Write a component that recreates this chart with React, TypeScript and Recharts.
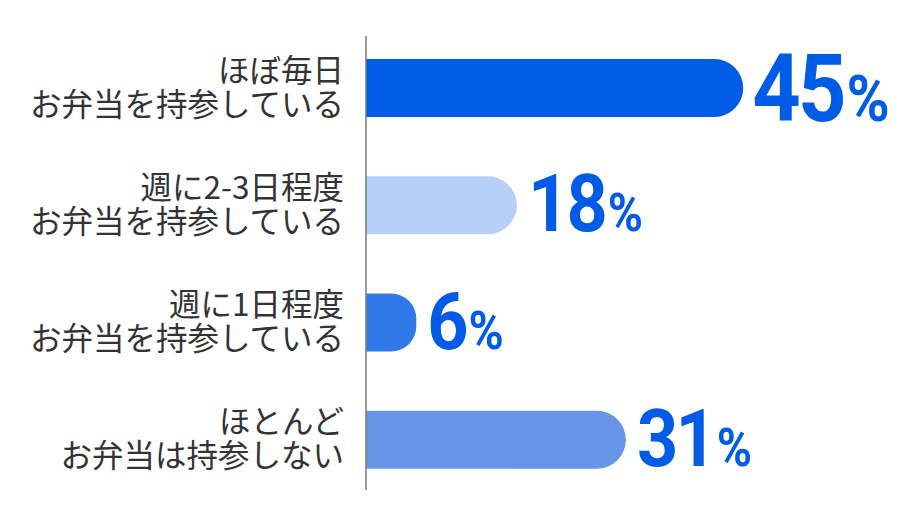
import { Bar, BarChart, Cell, LabelList, XAxis, YAxis } from "recharts";

const lineOne = ["ほぼ毎日", "週に2-3日程度", "週に1日程度", "ほとんど"];
const lineTwo = [
  "お弁当を持参している",
  "お弁当を持参している",
  "お弁当を持参している",
  "お弁当は持参しない",
];
const shares = [45, 18, 6, 31];
const barColors = ["#005ce6", "#b8cffa", "#2f7ae8", "#6796e7"];

const rows = shares.map((share, i) => ({
  key: String(i),
  first: lineOne[i],
  second: lineTwo[i],
  share,
}));

const topShare = Math.max(...shares);
const jpFont = '"Noto Sans CJK JP", "Noto Sans", sans-serif';
const numFont = 'Roboto, "DejaVu Sans", sans-serif';
const blue = "#005ce6";

function CategoryTick(props: any) {
  const { x, y, payload } = props;
  const row = rows[Number(payload.value)];
  const tx = x - 22;
  return (
    <text x={tx} y={y} textAnchor="end" fill="#333" fontFamily={jpFont} fontSize={31.5}>
      <tspan x={tx} dy={-6}>
        {row.first}
      </tspan>
      <tspan x={tx} dy={34}>
        {row.second}
      </tspan>
    </text>
  );
}

function ShareLabel(props: any) {
  const { x, y, width, height, value } = props;
  // the largest share gets the bigger number
  const big = value === topShare;
  const numSize = big ? 94 : 80;
  const pctSize = big ? 65 : 53;
  const base = y + height / 2 + (big ? 33 : 26);
  const left = x + width + (big ? 9 : 11);
  return (
    <text
      transform={`translate(${left},${base}) scale(0.9,1)`}
      fill={blue}
      fontFamily={numFont}
      fontWeight={700}
    >
      <tspan fontSize={numSize} letterSpacing={-3}>
        {value}
      </tspan>
      <tspan fontSize={pctSize} dx={3}>
        %
      </tspan>
    </text>
  );
}

export default function App() {
  return (
    <div style={{ position: "absolute", left: 0, top: 0, background: "#fff" }}>
      <BarChart
        width={920}
        height={520}
        data={rows}
        layout="vertical"
        margin={{ top: 36, right: 51, bottom: 30, left: 0 }}
        barSize={58}
      >
        <XAxis type="number" domain={[0, 60]} hide />
        <YAxis
          type="category"
          dataKey="key"
          width={366}
          padding={{ top: -7, bottom: -8 }}
          tickLine={false}
          tickSize={0}
          tickMargin={0}
          axisLine={{ stroke: "#777", strokeWidth: 1.5 }}
          tick={<CategoryTick />}
          interval={0}
        />
        <Bar dataKey="share" radius={[0, 29, 29, 0]} isAnimationActive={false}>
          {rows.map((r, i) => (
            <Cell key={r.key} fill={barColors[i]} />
          ))}
          <LabelList dataKey="share" content={<ShareLabel />} />
        </Bar>
      </BarChart>
    </div>
  );
}
